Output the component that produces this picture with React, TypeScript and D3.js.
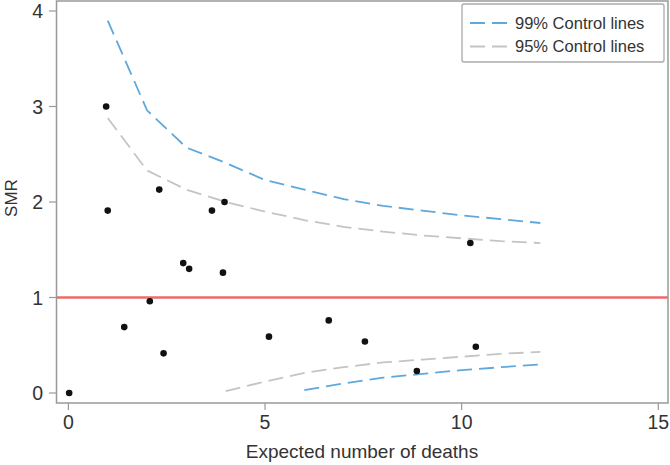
import React from "react";
import * as d3 from "d3";

const expected = [0.02, 0.96, 1.0, 2.31, 3.65, 3.97, 2.92, 3.07, 3.93, 2.07, 1.42, 2.42, 5.1, 6.62, 7.54, 10.22, 10.36, 8.86];
const smr = [0.0, 3.0, 1.91, 2.13, 1.91, 2.0, 1.36, 1.3, 1.26, 0.96, 0.69, 0.415, 0.59, 0.76, 0.54, 1.57, 0.485, 0.23];

const ctlX = [1, 2, 3, 4, 5, 6, 7, 8, 9, 10, 11, 12];
const upper99 = [3.9, 2.96, 2.57, 2.41, 2.23, 2.13, 2.03, 1.96, 1.91, 1.86, 1.82, 1.78];
const upper95 = [2.88, 2.33, 2.13, 2.0, 1.9, 1.81, 1.74, 1.69, 1.65, 1.62, 1.59, 1.57];
const lowerX95 = [4, 5, 6, 7, 8, 9, 10, 11, 12];
const lower95 = [0.02, 0.12, 0.21, 0.27, 0.32, 0.35, 0.38, 0.41, 0.43];
const lowerX99 = [6, 7, 8, 9, 10, 11, 12];
const lower99 = [0.03, 0.1, 0.16, 0.2, 0.24, 0.27, 0.3];

const xTicks = [0, 5, 10, 15];
const yTicks = [0, 1, 2, 3, 4];
const legendLabels = ["99% Control lines", "95% Control lines"];

const BLUE = "#5fa8dc";
const GRAY = "#c4c4c4";
const RED = "#ec6a6a";
const FONT = "Liberation Sans, Arial, Helvetica, sans-serif";

export default function App() {
  const W = 670, H = 465;
  const frame = { l: 56.5, r: 668, t: 1, b: 403 };
  const x = d3.scaleLinear().domain([0, 15]).range([68.4, 658.3]);
  const y = d3.scaleLinear().domain([0, 4]).range([393, 11]);
  const line = d3.line<[number, number]>().x(d => x(d[0])).y(d => y(d[1]));
  const zip = (a: number[], b: number[]) => a.map((v, i) => [v, b[i]] as [number, number]);
  const dash = "15,7";
  return (
    <svg width={W} height={H} style={{ position: "absolute", left: 0, top: 0, background: "#fff" }} fontFamily={FONT}>
      <rect x={0} y={0} width={W} height={H} fill="#fff" />
      {/* red reference line */}
      <line x1={frame.l} x2={frame.r} y1={y(1)} y2={y(1)} stroke={RED} strokeWidth={2.5} />
      {/* control lines */}
      <path d={line(zip(ctlX, upper99)) || ""} fill="none" stroke={BLUE} strokeWidth={1.8} strokeDasharray={dash} />
      <path d={line(zip(lowerX99, lower99)) || ""} fill="none" stroke={BLUE} strokeWidth={1.8} strokeDasharray={dash} />
      <path d={line(zip(ctlX, upper95)) || ""} fill="none" stroke={GRAY} strokeWidth={1.8} strokeDasharray={dash} />
      <path d={line(zip(lowerX95, lower95)) || ""} fill="none" stroke={GRAY} strokeWidth={1.8} strokeDasharray={dash} />
      {/* points */}
      {expected.map((e, i) => (
        <circle key={i} cx={x(e)} cy={y(smr[i])} r={3.3} fill="#111" />
      ))}
      {/* frame */}
      <rect x={frame.l} y={frame.t} width={frame.r - frame.l} height={frame.b - frame.t} fill="none" stroke="#999" strokeWidth={1.5} />
      {/* y axis */}
      {yTicks.map(t => (
        <g key={"y" + t}>
          <line x1={49} x2={frame.l} y1={y(t)} y2={y(t)} stroke="#999" strokeWidth={1.2} />
          <text x={43} y={y(t)} dy="0.36em" textAnchor="end" fontSize={19.5} fill="#333">{t}</text>
        </g>
      ))}
      <text transform={`translate(${17},${198}) rotate(-90)`} textAnchor="middle" fontSize={17} fill="#333">SMR</text>
      {/* x axis */}
      {xTicks.map(t => (
        <g key={"x" + t}>
          <line x1={x(t)} x2={x(t)} y1={frame.b} y2={frame.b + 7} stroke="#999" strokeWidth={1.2} />
          <text x={x(t)} y={429} textAnchor="middle" fontSize={19.5} fill="#333">{t}</text>
        </g>
      ))}
      <text x={362} y={458} textAnchor="middle" fontSize={19} fill="#333">Expected number of deaths</text>
      {/* legend */}
      <rect x={462} y={4} width={202} height={58} fill="#fff" stroke="#aaa" strokeWidth={1.3} rx={2} />
      {legendLabels.map((lab, i) => (
        <g key={lab}>
          <line x1={470} x2={507} y1={23 + i * 23.5} y2={23 + i * 23.5} stroke={i === 0 ? BLUE : GRAY} strokeWidth={1.8} strokeDasharray="15,7" />
          <text x={515} y={23 + i * 23.5} dy="0.36em" fontSize={16.5} fill="#333">{lab}</text>
        </g>
      ))}
    </svg>
  );
}
